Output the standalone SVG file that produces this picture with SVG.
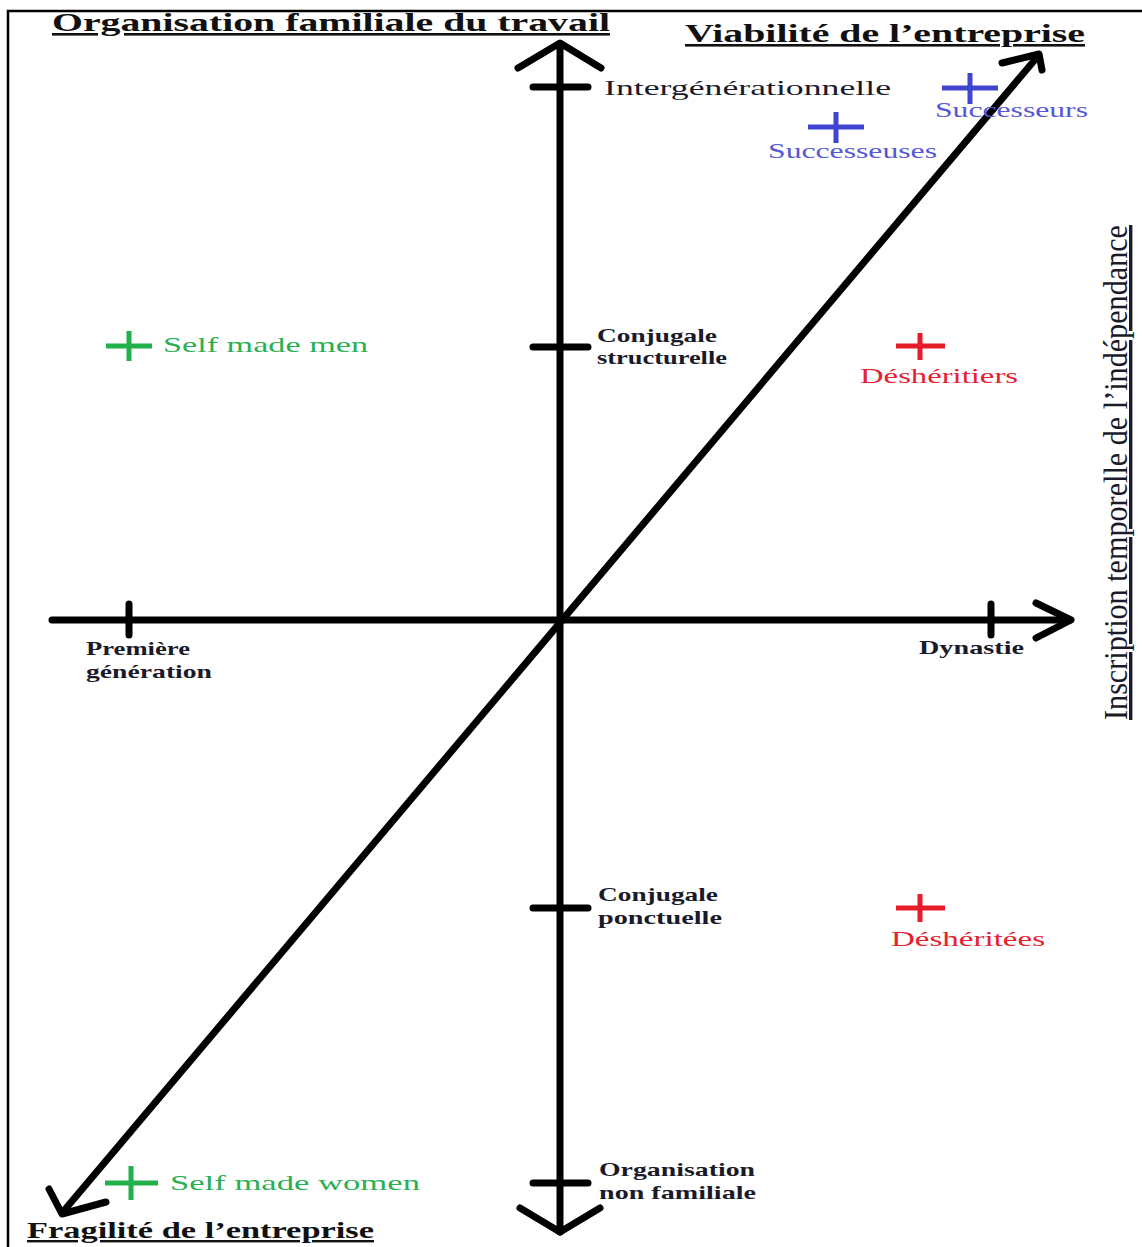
<svg xmlns="http://www.w3.org/2000/svg" width="1142" height="1247" viewBox="0 0 1142 1247">
<style>
.ax{stroke:#000;stroke-width:7;fill:none;stroke-linecap:round;stroke-linejoin:round}
.t{font-family:"Liberation Serif","DejaVu Serif",serif;fill:#1a1a2a}
.title{font-family:"Liberation Serif","DejaVu Serif",serif;font-weight:bold;fill:#111;text-decoration:underline}
.lab{font-size:19px;font-weight:bold}
.blue{stroke:#3f45d0;stroke-width:5}
.red{stroke:#e51d2a;stroke-width:5}
.green{stroke:#22b04b;stroke-width:5}
</style>
<rect width="1142" height="1247" fill="#fff"/>
<g id="frame"><path d="M8 1247 V11 H1142" fill="none" stroke="#000" stroke-width="2.5"/></g>
<g id="connectors">
<path class="ax" d="M560 44 V1232"/>
<path class="ax" d="M518 68 L560 43 L601 68"/>
<path class="ax" d="M520 1208 L560 1232 L600 1208"/>
<path class="ax" d="M533 87 H588 M533 347 H588 M533 908 H588 M533 1183 H588"/>
<path class="ax" d="M52 620 H1070"/>
<path class="ax" d="M1036 603 L1071 620 L1036 638"/>
<path class="ax" d="M129 604 V635 M991 604 V635"/>
<path class="ax" d="M62 1213 L1038 56"/>
<path class="ax" d="M1002 63 L1039 54 L1042 70"/>
<path class="ax" d="M49 1189 L62 1214 L106 1202"/>
</g>
<g id="titles">
<text class="title" x="52" y="31" font-size="26" textLength="558" lengthAdjust="spacingAndGlyphs">Organisation familiale du travail</text>
<text class="title" x="685" y="42" font-size="26" textLength="400" lengthAdjust="spacingAndGlyphs">Viabilité de l’entreprise</text>
<text class="title" x="27" y="1238" font-size="24" textLength="347" lengthAdjust="spacingAndGlyphs">Fragilité de l’entreprise</text>
<text class="t" transform="translate(1127 720) rotate(-90)" font-size="34" textLength="495" lengthAdjust="spacingAndGlyphs" text-decoration="underline">Inscription temporelle de l’indépendance</text>
</g>
<g id="axis-labels" class="t">
<text x="604" y="95" font-size="22" textLength="287" lengthAdjust="spacingAndGlyphs">Intergénérationnelle</text>
<text class="lab" x="597" y="342" textLength="120" lengthAdjust="spacingAndGlyphs">Conjugale</text>
<text class="lab" x="597" y="364" textLength="130" lengthAdjust="spacingAndGlyphs">structurelle</text>
<text class="lab" x="598" y="901" textLength="120" lengthAdjust="spacingAndGlyphs">Conjugale</text>
<text class="lab" x="598" y="924" textLength="124" lengthAdjust="spacingAndGlyphs">ponctuelle</text>
<text class="lab" x="599" y="1176" textLength="156" lengthAdjust="spacingAndGlyphs">Organisation</text>
<text class="lab" x="599" y="1199" textLength="157" lengthAdjust="spacingAndGlyphs">non familiale</text>
<text class="lab" x="86" y="655" textLength="104" lengthAdjust="spacingAndGlyphs">Première</text>
<text class="lab" x="86" y="678" textLength="126" lengthAdjust="spacingAndGlyphs">génération</text>
<text class="lab" x="919" y="654" textLength="105" lengthAdjust="spacingAndGlyphs">Dynastie</text>
</g>
<g id="successeurs">
<path class="blue" d="M942 88 H998 M970 73 V104"/>
<text x="935" y="117" font-family="Liberation Serif, serif" font-size="22" fill="#5558d8" textLength="153" lengthAdjust="spacingAndGlyphs">Successeurs</text>
</g>
<g id="successeuses">
<path class="blue" d="M808 127 H864 M836 112 V143"/>
<text x="768" y="158" font-family="Liberation Serif, serif" font-size="22" fill="#5558d8" textLength="169" lengthAdjust="spacingAndGlyphs">Successeuses</text>
</g>
<g id="self-made-men">
<path class="green" d="M106 346 H152 M129 331 V361"/>
<text x="163" y="352" font-family="Liberation Serif, serif" font-size="22" fill="#2aaf55" textLength="205" lengthAdjust="spacingAndGlyphs">Self made men</text>
</g>
<g id="desheritiers">
<path class="red" d="M896 346 H945 M920 333 V360"/>
<text x="860" y="383" font-family="Liberation Serif, serif" font-size="22" fill="#e8202e" textLength="158" lengthAdjust="spacingAndGlyphs">Déshéritiers</text>
</g>
<g id="desheritees">
<path class="red" d="M896 908 H945 M920 894 V922"/>
<text x="891" y="946" font-family="Liberation Serif, serif" font-size="22" fill="#e8202e" textLength="154" lengthAdjust="spacingAndGlyphs">Déshéritées</text>
</g>
<g id="self-made-women">
<path class="green" d="M105 1183 H158 M131 1166 V1200"/>
<text x="170" y="1190" font-family="Liberation Serif, serif" font-size="22" fill="#2aaf55" textLength="250" lengthAdjust="spacingAndGlyphs">Self made women</text>
</g>
</svg>
